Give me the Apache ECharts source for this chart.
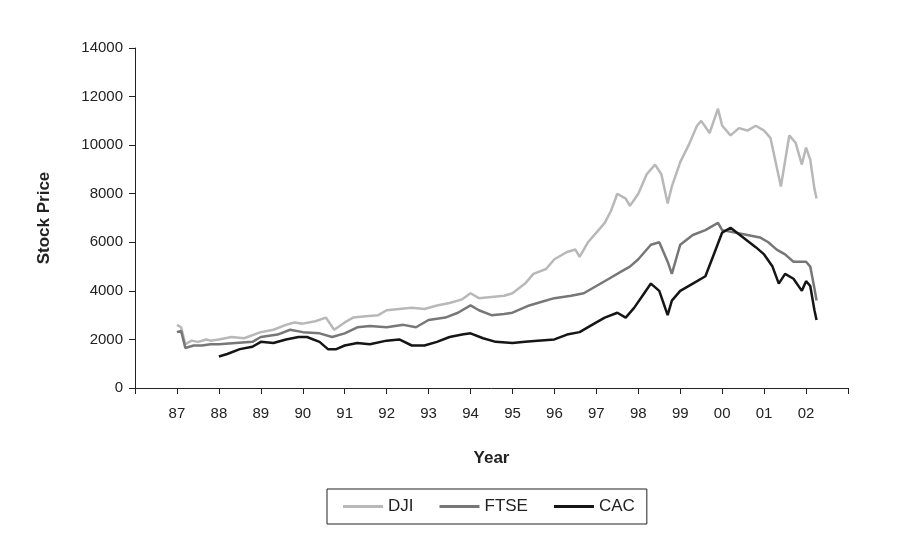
<!DOCTYPE html>
<html>
<head>
<meta charset="utf-8">
<script src="https://cdn.jsdelivr.net/npm/echarts@6/dist/echarts.min.js"></script>
<style>
  html, body { margin: 0; padding: 0; background: #fff; }
  #chart { width: 919px; height: 544px; }
</style>
</head>
<body>
<div id="chart"></div>
<script>
// values (year as decimal, 87 = 1987, 102 = 2002)
var djiYears = [87.0, 87.1, 87.2, 87.35, 87.5, 87.7, 87.8, 88.0, 88.3, 88.6, 89.0, 89.3, 89.6, 89.8, 90.0, 90.3, 90.55, 90.75, 91.0, 91.2, 91.5, 91.8, 92.0, 92.3, 92.6, 92.9, 93.2, 93.5, 93.8, 94.0, 94.2, 94.5, 94.8, 95.0, 95.3, 95.5, 95.8, 96.0, 96.3, 96.5, 96.6, 96.8, 97.0, 97.2, 97.35, 97.5, 97.7, 97.8, 98.0, 98.2, 98.4, 98.55, 98.7, 98.8, 99.0, 99.2, 99.4, 99.5, 99.7, 99.9, 100.0, 100.2, 100.4, 100.6, 100.8, 101.0, 101.15, 101.25, 101.4, 101.6, 101.75, 101.9, 102.0, 102.1, 102.2, 102.25];
var djiValues = [2600, 2500, 1800, 1950, 1900, 2000, 1950, 2000, 2100, 2050, 2300, 2400, 2600, 2700, 2650, 2750, 2900, 2400, 2700, 2900, 2950, 3000, 3200, 3250, 3300, 3250, 3400, 3500, 3650, 3900, 3700, 3750, 3800, 3900, 4300, 4700, 4900, 5300, 5600, 5700, 5400, 6000, 6400, 6800, 7300, 8000, 7800, 7500, 8000, 8800, 9200, 8800, 7600, 8300, 9300, 10000, 10800, 11000, 10500, 11500, 10800, 10400, 10700, 10600, 10800, 10600, 10300, 9500, 8300, 10400, 10100, 9200, 9900, 9400, 8200, 7800];

var ftseYears = [87.0, 87.1, 87.2, 87.4, 87.6, 87.8, 88.0, 88.4, 88.8, 89.0, 89.4, 89.7, 90.0, 90.4, 90.7, 91.0, 91.3, 91.6, 92.0, 92.4, 92.7, 93.0, 93.4, 93.7, 94.0, 94.2, 94.5, 94.8, 95.0, 95.4, 95.7, 96.0, 96.4, 96.7, 97.0, 97.3, 97.6, 97.8, 98.0, 98.3, 98.5, 98.7, 98.8, 99.0, 99.3, 99.6, 99.9, 100.0, 100.3, 100.6, 100.9, 101.1, 101.3, 101.5, 101.7, 101.9, 102.0, 102.1, 102.2, 102.25];
var ftseValues = [2300, 2350, 1650, 1750, 1750, 1800, 1800, 1850, 1900, 2100, 2200, 2400, 2300, 2250, 2100, 2250, 2500, 2550, 2500, 2600, 2500, 2800, 2900, 3100, 3400, 3200, 3000, 3050, 3100, 3400, 3550, 3700, 3800, 3900, 4200, 4500, 4800, 5000, 5300, 5900, 6000, 5200, 4700, 5900, 6300, 6500, 6800, 6500, 6400, 6300, 6200, 6000, 5700, 5500, 5200, 5200, 5200, 5000, 4100, 3600];

var cacYears = [88.0, 88.2, 88.5, 88.8, 89.0, 89.3, 89.6, 89.9, 90.1, 90.4, 90.6, 90.8, 91.0, 91.3, 91.6, 92.0, 92.3, 92.6, 92.9, 93.2, 93.5, 93.8, 94.0, 94.3, 94.6, 95.0, 95.3, 95.6, 96.0, 96.3, 96.6, 97.0, 97.2, 97.5, 97.7, 97.9, 98.1, 98.3, 98.5, 98.7, 98.8, 99.0, 99.3, 99.6, 99.8, 100.0, 100.2, 100.5, 100.8, 101.0, 101.2, 101.35, 101.5, 101.7, 101.9, 102.0, 102.1, 102.2, 102.25];
var cacValues = [1300, 1400, 1600, 1700, 1900, 1850, 2000, 2100, 2100, 1900, 1600, 1600, 1750, 1850, 1800, 1950, 2000, 1750, 1750, 1900, 2100, 2200, 2250, 2050, 1900, 1850, 1900, 1950, 2000, 2200, 2300, 2700, 2900, 3100, 2900, 3300, 3800, 4300, 4000, 3000, 3600, 4000, 4300, 4600, 5500, 6400, 6600, 6200, 5800, 5500, 5000, 4300, 4700, 4500, 4000, 4400, 4200, 3200, 2800];

var seriesNames = ['DJI', 'FTSE', 'CAC'];
var seriesColors = ['#b8b8b8', '#777777', '#151515'];

function pairs(xs, ys) {
    return xs.map(function (x, i) { return [x, ys[i]]; });
}

var chart = echarts.init(document.getElementById('chart'));
var allData = [pairs(djiYears, djiValues), pairs(ftseYears, ftseValues), pairs(cacYears, cacValues)];

var option = {
    animation: false,
    textStyle: { fontFamily: 'Liberation Sans, Arial, sans-serif' },
    grid: { left: 135, right: 71, top: 48, bottom: 156 },
    legend: {
        bottom: 20,
        left: 327,
        data: seriesNames,
        borderColor: '#222',
        borderWidth: 1,
        padding: [9, 12, 9, 16],
        itemGap: 26,
        itemWidth: 40,
        icon: 'rect',
        itemHeight: 3,
        textStyle: { fontSize: 17, color: '#222' }
    },
    xAxis: {
        type: 'value',
        min: 86,
        max: 103,
        interval: 1,
        name: 'Year',
        nameLocation: 'middle',
        nameGap: 62,
        nameTextStyle: { fontSize: 17, fontWeight: 'bold', color: '#222' },
        splitLine: { show: false },
        axisLine: { lineStyle: { color: '#222' } },
        axisTick: { lineStyle: { color: '#222' }, length: 6 },
        axisLabel: {
            fontSize: 15,
            color: '#222',
            margin: 18,
            formatter: function (v) {
                if (v < 87 || v > 102) return '';
                return String(v % 100).padStart(2, '0');
            }
        }
    },
    yAxis: {
        type: 'value',
        min: 0,
        max: 14000,
        interval: 2000,
        name: 'Stock Price',
        nameLocation: 'middle',
        nameGap: 82,
        nameTextStyle: { fontSize: 17, fontWeight: 'bold', color: '#222' },
        splitLine: { show: false },
        axisLine: { show: true, lineStyle: { color: '#222' } },
        axisTick: { show: true, lineStyle: { color: '#222' }, length: 6 },
        axisLabel: { fontSize: 15, color: '#222', margin: 12, formatter: function (v) { return String(v); } }
    },
    series: seriesNames.map(function (name, i) {
        return {
            name: name,
            type: 'line',
            data: allData[i],
            showSymbol: false,
            color: seriesColors[i],
            lineStyle: { width: 2.5, color: seriesColors[i] }
        };
    })
};

chart.setOption(option);
</script>
</body>
</html>
